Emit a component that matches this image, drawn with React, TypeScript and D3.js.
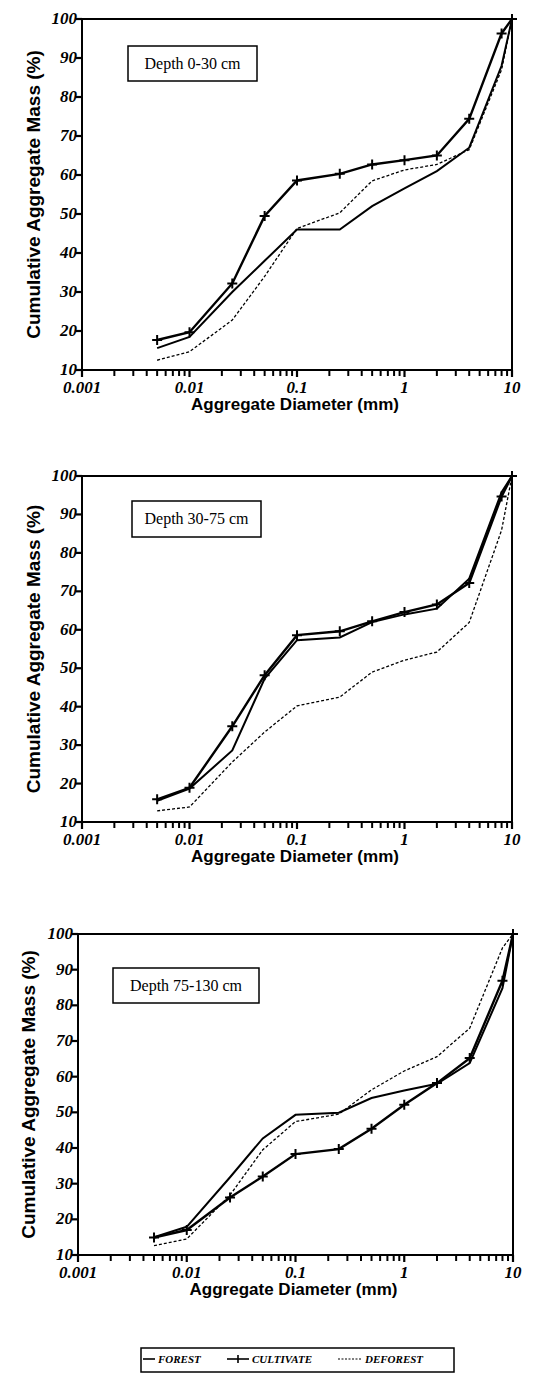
import React, { useRef, useEffect } from 'react';
import * as d3 from 'd3';

// aggregate size classes (mm)
const diameters = [0.005, 0.01, 0.025, 0.05, 0.1, 0.25, 0.5, 1, 2, 4, 8, 10];

// Depth 0-30 cm
const forest0 = [15.6, 18.5, 30, 38, 46, 46, 52, 56.6, 61, 67, 88, 100];
const cultivate0 = [17.7, 19.7, 32.2, 49.5, 58.6, 60.3, 62.7, 63.8, 65, 74.4, 96.3, 100];
const deforest0 = [12.5, 14.7, 22.8, 34, 46.3, 50.3, 58.5, 61.3, 62.7, 66.5, 87, 100];

// Depth 30-75 cm
const forest1 = [15.5, 18.7, 28.6, 47.3, 57.3, 58, 62, 64, 65.5, 73.3, 95.8, 100];
const cultivate1 = [15.9, 18.9, 34.9, 48.2, 58.6, 59.6, 62.2, 64.6, 66.6, 72.2, 94.7, 100];
const deforest1 = [12.9, 13.9, 25.6, 33.4, 40.2, 42.5, 49, 52.1, 54.2, 61.9, 85.9, 100];

// Depth 75-130 cm
const forest2 = [15, 17.9, 31.8, 42.7, 49.3, 49.9, 54, 56.1, 58, 63.8, 84.8, 100];
const cultivate2 = [14.9, 17, 26.1, 32, 38.3, 39.7, 45.4, 52.1, 58.2, 65.2, 86.9, 100];
const deforest2 = [12.6, 14.5, 26.8, 39.5, 47.4, 49.5, 56.3, 61.6, 65.6, 73.6, 96.1, 100];

const depthLabels = ['Depth 0-30 cm', 'Depth 30-75 cm', 'Depth 75-130 cm'];
const xTicks = [0.001, 0.01, 0.1, 1, 10];
const yTicks = [10, 20, 30, 40, 50, 60, 70, 80, 90, 100];
const legendLabels = ['FOREST', 'CULTIVATE', 'DEFOREST'];

const seriesByPanel = [
  [forest0, cultivate0, deforest0],
  [forest1, cultivate1, deforest1],
  [forest2, cultivate2, deforest2],
];

// panel frames (pixels)
const layout = [
  { left: 82, right: 512, top: 19, bottom: 370, box: [128, 46, 129, 35], titleX: 40 },
  { left: 82, right: 512, top: 476, bottom: 822, box: [132, 501, 129, 36], titleX: 40 },
  { left: 78, right: 513, top: 934, bottom: 1255, box: [113, 968, 146, 35], titleX: 35 },
];

const serif = '"Liberation Serif", "Times New Roman", serif';
const sans = '"Liberation Sans", Arial, sans-serif';

function App() {
  const svgRef = useRef<SVGSVGElement>(null);

  useEffect(() => {
    const width = 541;
    const height = 1377;
    const svg = d3.select(svgRef.current);
    svg.selectAll('*').remove();
    svg.attr('width', width).attr('height', height).attr('viewBox', [0, 0, width, height]);
    svg.append('rect').attr('width', width).attr('height', height).attr('fill', '#fff');

    const minors: number[] = [];
    for (let e = -3; e < 1; e++) for (let k = 2; k <= 9; k++) minors.push(k * Math.pow(10, e));

    layout.forEach((p, i) => {
      const x = d3.scaleLog().domain([0.001, 10]).range([p.left, p.right]);
      const y = d3.scaleLinear().domain([10, 100]).range([p.bottom, p.top]);
      const g = svg.append('g');

      // x ticks (minor + major), pointing outward
      g.append('g').selectAll('line')
        .data(minors)
        .join('line')
        .attr('x1', d => x(d)).attr('x2', d => x(d))
        .attr('y1', p.bottom).attr('y2', p.bottom + 6)
        .attr('stroke', '#000').attr('stroke-width', 2);
      g.append('g').selectAll('line')
        .data(xTicks)
        .join('line')
        .attr('x1', d => x(d)).attr('x2', d => x(d))
        .attr('y1', p.bottom).attr('y2', p.bottom + 7)
        .attr('stroke', '#000').attr('stroke-width', 2.2);
      g.append('g').selectAll('text')
        .data(xTicks)
        .join('text')
        .attr('x', d => x(d)).attr('y', p.bottom + 23)
        .attr('text-anchor', 'middle')
        .attr('font-family', serif).attr('font-weight', 'bold').attr('font-style', 'italic')
        .attr('font-size', 17)
        .text(d => String(d));

      // y ticks
      g.append('g').selectAll('line')
        .data(yTicks)
        .join('line')
        .attr('x1', p.left - 6).attr('x2', p.left)
        .attr('y1', d => y(d)).attr('y2', d => y(d))
        .attr('stroke', '#000').attr('stroke-width', 2.2);
      g.append('g').selectAll('text')
        .data(yTicks)
        .join('text')
        .attr('x', p.left - 5).attr('y', d => y(d) + 5)
        .attr('text-anchor', 'end')
        .attr('font-family', serif).attr('font-weight', 'bold').attr('font-style', 'italic')
        .attr('font-size', 17)
        .text(d => String(d));

      g.append('rect')
        .attr('x', p.left).attr('y', p.top)
        .attr('width', p.right - p.left).attr('height', p.bottom - p.top)
        .attr('fill', 'none').attr('stroke', '#000').attr('stroke-width', 2);

      // axis titles
      g.append('text')
        .attr('x', (p.left + p.right) / 2 - 2).attr('y', p.bottom + 40)
        .attr('text-anchor', 'middle')
        .attr('font-family', sans).attr('font-weight', 'bold').attr('font-size', 17)
        .text('Aggregate Diameter (mm)');

      g.append('text')
        .attr('transform', `translate(${p.titleX},${(p.top + p.bottom) / 2}) rotate(-90)`)
        .attr('text-anchor', 'middle')
        .attr('font-family', sans).attr('font-weight', 'bold').attr('font-size', 19)
        .text('Cumulative Aggregate Mass (%)');

      // depth label
      const [bx, by, bw, bh] = p.box;
      g.append('rect')
        .attr('x', bx).attr('y', by).attr('width', bw).attr('height', bh)
        .attr('fill', '#fff').attr('stroke', '#000').attr('stroke-width', 1.5);
      g.append('text')
        .attr('x', bx + bw / 2).attr('y', by + bh / 2 + 5)
        .attr('text-anchor', 'middle')
        .attr('font-family', serif).attr('font-size', 16)
        .text(depthLabels[i]);

      const [forest, cultivate, deforest] = seriesByPanel[i];
      const line = d3.line<number>()
        .x((_, j) => x(diameters[j]))
        .y(d => y(d));

      g.append('path').attr('d', line(deforest))
        .attr('fill', 'none').attr('stroke', '#000').attr('stroke-width', 1.3)
        .attr('stroke-dasharray', '3,2');
      g.append('path').attr('d', line(forest))
        .attr('fill', 'none').attr('stroke', '#000').attr('stroke-width', 2);
      g.append('path').attr('d', line(cultivate))
        .attr('fill', 'none').attr('stroke', '#000').attr('stroke-width', 2.4);
      g.append('g').selectAll('path')
        .data(cultivate)
        .join('path')
        .attr('transform', (d, j) => `translate(${x(diameters[j])},${y(d)})`)
        .attr('d', 'M-5,0H5M0,-5V5')
        .attr('stroke', '#000').attr('stroke-width', 2);
    });

    // legend
    const lg = svg.append('g');
    lg.append('rect')
      .attr('x', 141).attr('y', 1348).attr('width', 313).attr('height', 24)
      .attr('fill', '#fff').attr('stroke', '#000').attr('stroke-width', 1.5);
    const items = [
      { x0: 143, x1: 155, tx: 158 },
      { x0: 227, x1: 249, tx: 252 },
      { x0: 338, x1: 361, tx: 365 },
    ];
    const ly = 1359;
    items.forEach((it, k) => {
      lg.append('line')
        .attr('x1', it.x0).attr('x2', it.x1).attr('y1', ly).attr('y2', ly)
        .attr('stroke', '#000')
        .attr('stroke-width', k === 2 ? 1.2 : 1.6)
        .attr('stroke-dasharray', k === 2 ? '2,1.5' : null);
      if (k === 1) {
        lg.append('path')
          .attr('d', `M${(it.x0 + it.x1) / 2},${ly - 4}V${ly + 4}`)
          .attr('stroke', '#000').attr('stroke-width', 1.6);
      }
      lg.append('text')
        .attr('x', it.tx).attr('y', ly + 4)
        .attr('font-family', serif).attr('font-weight', 'bold').attr('font-style', 'italic')
        .attr('font-size', 11)
        .text(legendLabels[k]);
    });
  }, []);

  return (
    <div style={{ position: 'absolute', left: 0, top: 0 }}>
      <svg ref={svgRef} style={{ display: 'block' }}></svg>
    </div>
  );
}

export default App;
